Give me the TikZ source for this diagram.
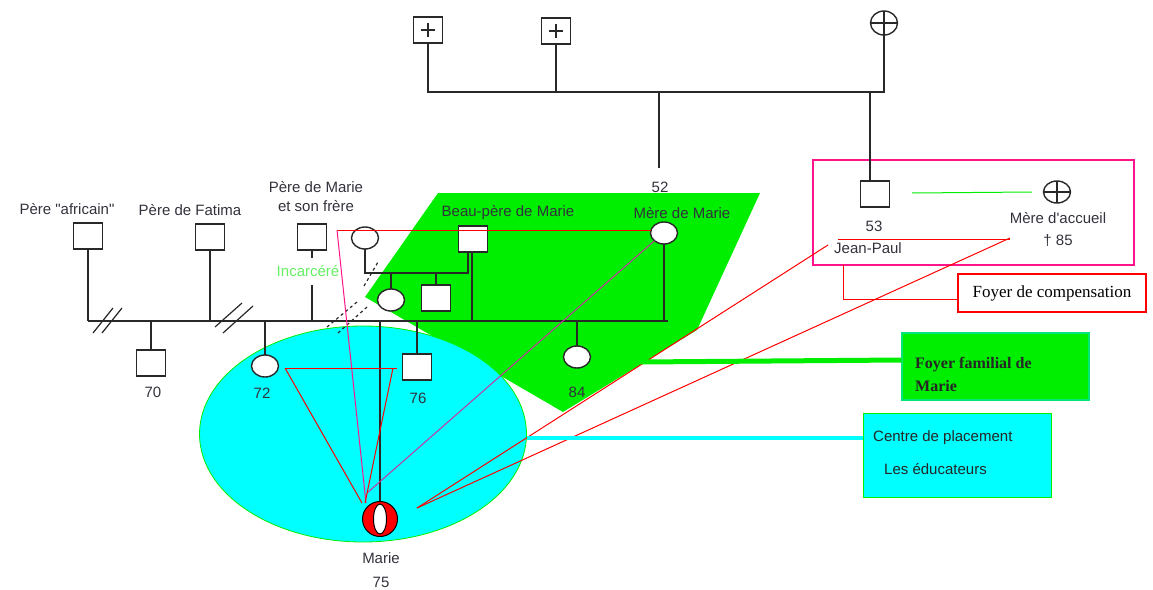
\documentclass[tikz,border=0pt]{standalone}
\usepackage{fontspec}
\setmainfont{Liberation Sans}[Ligatures=TeXOff]
\newfontfamily\seriffont{Liberation Serif}
\usetikzlibrary{shapes.geometric}
\definecolor{pgreen}{RGB}{0,238,0}
\definecolor{pcyan}{RGB}{0,255,255}
\definecolor{pline}{RGB}{40,40,40}
\definecolor{ppink}{RGB}{255,20,140}
\definecolor{ppurple}{RGB}{200,50,160}
\definecolor{pred}{RGB}{255,0,0}
\definecolor{lgreen}{RGB}{100,240,100}
\definecolor{ptext}{RGB}{50,50,60}
\begin{document}
\begin{tikzpicture}[x=1pt,y=-1pt,
  gen/.style={draw=pline,line width=1.4pt},
  sq/.style={draw=pline,line width=1.4pt,fill=white,minimum width=29pt,minimum height=26pt,inner sep=0pt,outer sep=0pt},
  ci/.style={draw=pline,line width=1.4pt,fill=white,ellipse,minimum width=27pt,minimum height=22pt,inner sep=0pt,outer sep=0pt},
  plus/.style={path picture={\draw[pline,line width=1.1pt] ([xshift=-7pt]path picture bounding box.center) -- ([xshift=7pt]path picture bounding box.center);
     \draw[pline,line width=1.1pt] ([yshift=-7pt]path picture bounding box.center) -- ([yshift=7pt]path picture bounding box.center);}},
  oplus/.style={path picture={\draw[pline,line width=1.1pt] (path picture bounding box.west) -- (path picture bounding box.east);
     \draw[pline,line width=1.1pt] (path picture bounding box.north) -- (path picture bounding box.south);}},
  txt/.style={font=\fontsize{15}{19}\selectfont,text=ptext,inner sep=0pt},
  redl/.style={draw=pred,line width=1pt},
  brk/.style={draw=pline,line width=1.2pt}
]
\useasboundingbox (0,0) rectangle (1153,589);

% backgrounds
\fill[pgreen] (438,193) -- (760,193) -- (697,330) -- (563,412) -- (365,297) -- cycle;
\coordinate (gpoly) at (640,362);
\node[ellipse,fill=pcyan,draw=pgreen,line width=0.8pt,minimum width=327pt,minimum height=216pt,inner sep=0pt] (ell) at (363,434) {};

% top generation
\node[sq,plus] (t1) at (428,30) {};
\node[sq,plus] (t2) at (556,31) {};
\node[ci,oplus,minimum height=24pt] (t3) at (884,23) {};
\coordinate (TL) at (428,92);
\coordinate (TR) at (884,92);
\coordinate (T52) at (659,92);
\coordinate (TJP) at (870,92);
\draw[gen] (t1.south) -- (TL) -- (TR) -- (t3.south);
\draw[gen] (t2.south) -- (t2.south |- TL);
\draw[gen] (T52) -- ++(0,76);
\node[txt] (n52) at (660,187) {52};

% foster family box
\draw[ppink,line width=1.2pt] (813,160) rectangle (1134,265);
\node[sq] (jp) at (875,194) {};
\draw[gen] (TJP) -- (TJP |- jp.north);
\node[ci,oplus] (ma) at (1057,192) {};
\draw[pgreen,line width=1pt] (912,193) -- (ma.west -| 1032,0);
\node[txt] (n53) at (874,226) {53};
\node[txt] (njp) at (868,248) {Jean-Paul};
\node[txt] (nma) at (1058,218) {Mère d'accueil};
\node[txt] (n85) at (1058,241) {† 85};

% left generation
\node[sq] (pa) at (88,236) {};
\node[sq] (pf) at (210,237) {};
\node[sq] (pm) at (312,237) {};
\node[txt] at (67,209) {Père "africain"};
\node[txt] at (190,210) {Père de Fatima};
\node[txt,align=center] at (316,197) {Père de Marie\\et son frère};
\node[txt,text=lgreen] (inc) at (308,271) {Incarcéré};
\coordinate (L1) at (88,321);
\coordinate (L2) at (668,321);
\draw[gen] (L1) -- (L2);
\draw[gen] (pa.south) -- (pa.south |- L1);
\draw[gen] (pf.south) -- (pf.south |- L1);
\draw[gen] (pm.south) -- ++(0,8);
\draw[gen] (pm.south |- 0,285) -- (pm.south |- L1);

\node[sq] (s70) at (151,363) {};
\node[ci] (c72) at (265,366) {};
\node[sq] (s76) at (417,367) {};
\node[ci] (c84) at (577,357) {};
\draw[gen] (s70.north |- L1) -- (s70.north);
\draw[gen] (c72.north |- L1) -- (c72.north);
\draw[gen] (s76.north |- L1) -- (s76.north);
\draw[gen] (c84.north |- L1) -- (c84.north);
\node[txt] at (153,392) {70};
\node[txt] at (262,393) {72};
\node[txt] at (418,398) {76};
\node[txt] at (577,392) {84};

% breaks
\draw[brk] (93,333) -- (113,308);
\draw[brk] (102,333) -- (122,308);
\draw[brk] (215,327) -- (242,303);
\draw[brk] (223,333) -- (253,306);
\draw[brk,dashed] (327,327) -- (357,302);
\draw[brk,dashed] (338,333) -- (367,307);
\draw[brk,dashed] (364,286) -- (378,262);

% mother's second union
\node[ci] (sc) at (365,238) {};
\node[sq] (bp) at (473,239) {};
\node[ci] (mm) at (664,233) {};
\node[txt] at (508,213) {Beau-père de Marie};
\node[txt] at (682,213) {Mère de Marie};
\coordinate (H2) at (468,273);
\draw[gen] (sc.south) -- (sc.south |- H2) -- (H2) -- (H2 |- bp.south);
\draw[gen] (472,252) -- (472,321);
\draw[gen] (mm.south) -- (mm.south |- L2);
\node[ci] (c1) at (391,300) {};
\node[sq] (s1) at (436,298) {};
\draw[gen] (c1.north |- H2) -- (c1.north);
\draw[gen] (s1.north |- H2) -- (s1.north);

% Marie
\node[circle,draw=black,line width=1pt,fill=pred,minimum size=35pt,inner sep=0pt] (marie) at (380,519) {};
\node[ellipse,draw=black,line width=1pt,fill=white,minimum width=13pt,minimum height=30pt,inner sep=0pt] at (marie.center) {};
\draw[gen] (marie.north |- L1) -- (marie.north);
\node[txt] at (381,558) {Marie};
\node[txt] at (381,582) {75};

% relation lines
\coordinate (rA) at (337,230);
\coordinate (rM) at (366,503);
\draw[redl] (rA) -- (rA -| mm.west);
\draw[ppink,line width=1pt] (rA) -- (rM);
\draw[ppurple,line width=1pt] (mm.south west) -- (367,493);
\coordinate (tA) at (285,368);
\coordinate (tB) at (397,368);
\draw[redl] (tA) -- (tB);
\draw[redl] (tA) -- (362,503);
\draw[redl] (393,368) -- (365,503);
\coordinate (mTip) at (417,508);
\draw[redl] (828,245) -- (mTip);
\draw[redl] (1010,238) -- (mTip);
\draw[redl] (838,239) -- (1010,239);

% labels boxes
\node[draw=pred,line width=2.6pt,fill=white,minimum width=188pt,minimum height=38pt,inner sep=0pt,font=\seriffont\fontsize{17}{20}\selectfont] (fc) at (1052,293) {Foyer de compensation};
\draw[redl] (843,265) -- (843,299) -- (fc.west |- 0,299);

\node[fill=pgreen,draw={rgb,255:red,0;green,230;blue,120},line width=1.2pt,minimum width=187pt,minimum height=67pt,inner sep=0pt] (ff) at (995.5,366.5) {};
\node[anchor=west,align=left,inner sep=0pt,font=\seriffont\bfseries\fontsize{16}{23}\selectfont,text=black!85] at (915,374) {Foyer familial de\\Marie};
\draw[pgreen,line width=5pt] (gpoly) -- (ff.west |- 0,360);

\node[fill=pcyan,draw=pgreen,line width=0.8pt,minimum width=188pt,minimum height=84pt,inner sep=0pt] (cp) at (957,455) {};
\node[txt,anchor=west,text=black!85] at (873,438) {Centre de placement};
\node[txt,anchor=west,text=black!85] at (884,469) {Les éducateurs};
\draw[pcyan,line width=4pt] (ell.east |- 0,438) -- (cp.west |- 0,438);
\end{tikzpicture}
\end{document}
